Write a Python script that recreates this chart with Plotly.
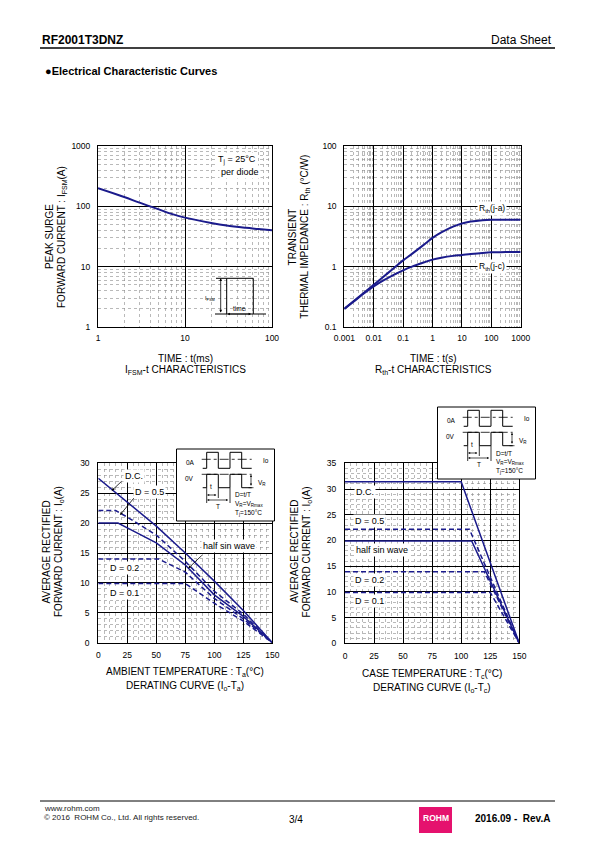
import plotly.graph_objects as go

W, H = 595, 842
def X(px): return px / W
def Y(py): return 1 - py / H

NAVY = "#1b1b8c"
FONT = "Liberation Sans, Arial, sans-serif"

# ---------------- data ----------------
# IFSM - t characteristics
ifsm_t_ms = [1, 2, 3, 5, 7, 10, 20, 30, 50, 70, 100]
ifsm_a = [200, 143, 115, 89, 75, 65, 53, 48, 44, 42, 40]

# Rth - t characteristics
rth_t_s = [0.001, 0.002, 0.005, 0.01, 0.02, 0.05, 0.1, 0.2, 0.5, 1, 2, 5, 10, 20, 50, 100, 200, 500, 1000]
rth_ja = [0.2, 0.265, 0.38, 0.5, 0.66, 0.96, 1.27, 1.63, 2.3, 3.0, 3.7, 4.6, 5.2, 5.6, 5.9, 6.0, 6.0, 6.0, 6.0]
rth_jc = [0.2, 0.26, 0.37, 0.47, 0.58, 0.74, 0.87, 1.0, 1.17, 1.31, 1.41, 1.51, 1.56, 1.62, 1.69, 1.73, 1.74, 1.75, 1.75]

# Io - Ta derating
ta_dc = [0, 25, 50, 75, 100, 125, 150]
io_ta_dc = [27.5, 23.5, 19.5, 15.0, 10.3, 5.4, 0]
ta_d05 = [0, 15, 25, 50, 75, 100, 125, 150]
io_ta_d05 = [22.1, 22.1, 21.0, 18.0, 13.6, 8.6, 4.8, 0]
ta_sin = [0, 17, 25, 50, 75, 100, 125, 150]
io_ta_sin = [20.0, 20.0, 19.2, 16.7, 13.0, 8.0, 4.4, 0]
ta_d02 = [0, 52, 75, 100, 125, 150]
io_ta_d02 = [14.0, 14.0, 11.8, 7.4, 4.0, 0]
ta_d01 = [0, 75, 100, 125, 150]
io_ta_d01 = [9.9, 9.9, 6.6, 3.6, 0]

# Io - Tc derating
tc_dc = [0, 100, 150];  io_tc_dc = [31.4, 31.4, 0]
tc_d05 = [0, 107, 150]; io_tc_d05 = [22.2, 22.2, 0]
tc_sin = [0, 109, 150]; io_tc_sin = [19.9, 19.9, 0]
tc_d02 = [0, 120, 150]; io_tc_d02 = [13.9, 13.9, 0]
tc_d01 = [0, 125, 150]; io_tc_d01 = [9.9, 9.9, 0]

# tick labels
t1_x_ticks = [1, 10, 100];        t1_x_text = ["1", "10", "100"]
t1_y_ticks = [1, 10, 100, 1000];  t1_y_text = ["1", "10", "100", "1000"]
t2_x_ticks = [0.001, 0.01, 0.1, 1, 10, 100, 1000]
t2_x_text = ["0.001", "0.01", "0.1", "1", "10", "100", "1000"]
t2_y_ticks = [0.1, 1, 10, 100];   t2_y_text = ["0.1", "1", "10", "100"]

fig = go.Figure()

def line_tr(x, y, xa, ya, dash="solid", width=1.5, shape="linear"):
    fig.add_trace(go.Scatter(x=x, y=y, mode="lines", xaxis=xa, yaxis=ya,
                             line=dict(color=NAVY, width=width, dash=dash, shape=shape),
                             showlegend=False, hoverinfo="skip"))

line_tr(ifsm_t_ms, ifsm_a, "x", "y", width=2, shape="spline")
line_tr(rth_t_s, rth_ja, "x2", "y2", width=2, shape="spline")
line_tr(rth_t_s, rth_jc, "x2", "y2", width=2, shape="spline")
DASH = "5px,3px"
line_tr(ta_dc, io_ta_dc, "x3", "y3")
line_tr(ta_d05, io_ta_d05, "x3", "y3", dash=DASH)
line_tr(ta_sin, io_ta_sin, "x3", "y3")
line_tr(ta_d02, io_ta_d02, "x3", "y3", dash=DASH)
line_tr(ta_d01, io_ta_d01, "x3", "y3", dash=DASH)
line_tr(tc_dc, io_tc_dc, "x4", "y4")
line_tr(tc_d05, io_tc_d05, "x4", "y4", dash=DASH)
line_tr(tc_sin, io_tc_sin, "x4", "y4")
line_tr(tc_d02, io_tc_d02, "x4", "y4", dash=DASH)
line_tr(tc_d01, io_tc_d01, "x4", "y4", dash=DASH)

def ax(domain, **kw):
    d = dict(domain=domain, showline=True, mirror=True, linecolor="black", linewidth=1,
             showgrid=True, gridcolor="black", gridwidth=1, zeroline=False, ticks="",
             tickfont=dict(family=FONT, size=8.5, color="black"),
             layer="above traces", automargin=False)
    d.update(kw)
    return d

MINOR = dict(showgrid=True, gridcolor="#8a8a8a", gridwidth=0.6, griddash="dot", ticks="")

def minor_cfg(dt):
    m = dict(MINOR); m.update(dtick=dt); return m

fig.update_layout(
    width=W, height=H, autosize=False,
    margin=dict(l=0, r=0, t=0, b=0, pad=0, autoexpand=False),
    paper_bgcolor="white", plot_bgcolor="white", showlegend=False,
    xaxis=ax([X(98), X(272)], type="log", range=[0, 2], anchor="y",
             tickmode="array", tickvals=t1_x_ticks, ticktext=t1_x_text,
             minor=minor_cfg("D1"), ticklabelstandoff=3),
    yaxis=ax([Y(327), Y(146)], type="log", range=[0, 3], anchor="x",
             tickmode="array", tickvals=t1_y_ticks, ticktext=t1_y_text,
             minor=minor_cfg("D1"), ticklabelstandoff=5),
    xaxis2=ax([X(344.3), X(520.7)], type="log", range=[-3, 3], anchor="y2",
              tickmode="array", tickvals=t2_x_ticks, ticktext=t2_x_text,
              minor=minor_cfg("D1"), ticklabelstandoff=3),
    yaxis2=ax([Y(327), Y(146)], type="log", range=[-1, 2], anchor="x2",
              tickmode="array", tickvals=t2_y_ticks, ticktext=t2_y_text,
              minor=minor_cfg("D1"), ticklabelstandoff=5),
    xaxis3=ax([X(98.3), X(272.3)], range=[0, 150], anchor="y3", dtick=25,
              minor=minor_cfg(5), ticklabelstandoff=4),
    yaxis3=ax([Y(642.7), Y(463.3)], range=[0, 30], anchor="x3", dtick=5,
              minor=minor_cfg(1), ticklabelstandoff=6),
    xaxis4=ax([X(345), X(519.3)], range=[0, 150], anchor="y4", dtick=25,
              minor=minor_cfg(5), ticklabelstandoff=4),
    yaxis4=ax([Y(643.3), Y(463.3)], range=[0, 35], anchor="x4", dtick=5,
              minor=minor_cfg(1), ticklabelstandoff=6),
)

shapes = []
annos = []

def text(px, py, s, size=10, bold=False, xanchor="center", angle=0, bg=None, color="black"):
    if bold:
        s = "<b>" + s + "</b>"
    a = dict(x=X(px), y=Y(py), xref="paper", yref="paper", text=s, showarrow=False,
             xanchor=xanchor, yanchor="middle", textangle=angle,
             font=dict(family=FONT, size=size, color=color))
    if bg:
        a.update(bgcolor=bg, borderpad=1)
    annos.append(a)

def seg(x0, y0, x1, y1, width=1, dash="solid", color="black"):
    shapes.append(dict(type="line", xref="paper", yref="paper",
                       x0=X(x0), y0=Y(y0), x1=X(x1), y1=Y(y1),
                       line=dict(color=color, width=width, dash=dash)))

def poly(pts, width=1):
    d = "M" + " L".join(f"{X(a):.5f},{Y(b):.5f}" for a, b in pts)
    shapes.append(dict(type="path", xref="paper", yref="paper", path=d,
                       line=dict(color="black", width=width)))

def arrow(hx, hy, tx, ty, both=False, size=0.7, width=0.8):
    annos.append(dict(x=X(hx), y=Y(hy), xref="paper", yref="paper", text="",
                      showarrow=True, ax=tx - hx, ay=ty - hy, arrowhead=2,
                      arrowsize=size, arrowwidth=width, arrowcolor="black",
                      arrowside="end+start" if both else "end",
                      standoff=0, startstandoff=0))

# ---------- header / footer ----------
text(40, 40, "RF2001T3DNZ", size=12, bold=True, xanchor="left")
text(554, 40, "Data Sheet", size=12, xanchor="right")
seg(40, 48, 555, 48, width=1.3)
text(43, 71, "●Electrical Characteristic Curves", size=11, bold=True, xanchor="left")

seg(40, 801, 555, 801, width=1)
text(42, 808, "www.rohm.com", size=8, xanchor="left", color="#222")
text(42, 817, "© 2016  ROHM Co., Ltd. All rights reserved.", size=8, xanchor="left", color="#222")
text(296, 819, "3/4", size=10)
shapes.append(dict(type="rect", xref="paper", yref="paper", x0=X(419), x1=X(452),
                   y0=Y(833), y1=Y(807), fillcolor="#e5126e", line=dict(width=0)))
text(435.5, 818, "ROHM", size=8.5, bold=True, color="white")
text(552, 818, "2016.09 -  Rev.A", size=10, bold=True, xanchor="right")

# ---------- chart 1 texts ----------
text(49.3, 236.7, "PEAK SURGE", angle=-90)
text(61.3, 236.7, "FORWARD CURRENT : I<sub>FSM</sub>(A)", angle=-90)
text(185, 358, "TIME : t(ms)")
text(185, 370, "I<sub>FSM</sub>-t CHARACTERISTICS")
text(237, 160, "T<sub>j</sub> = 25°C", size=9, bg="white")
text(240, 172, "per diode", size=9, bg="white")
# pulse sketch
seg(215, 314, 266, 314)
poly([(226.7, 314), (226.7, 278.3), (253.3, 278.3), (253.3, 314)])
seg(216, 278.3, 226.7, 278.3)
arrow(220.7, 278.3, 220.7, 314, both=True)
arrow(227.5, 314, 252.5, 314, both=True, width=0.7)
text(210, 298.3, "I<sub>FSM</sub>", size=5.5)
text(239.5, 308.5, "time", size=6.5)

# ---------- chart 2 texts ----------
text(292.7, 236.7, "TRANSIENT", angle=-90)
text(305, 236.7, "THERMAL IMPEDANCE : R<sub>th</sub> (°C/W)", angle=-90)
text(433.3, 358, "TIME : t(s)")
text(433.3, 370, "R<sub>th</sub>-t CHARACTERISTICS")
text(491.7, 208.3, "R<sub>th</sub>(j-a)", size=8.5, bg="white")
text(491.7, 266.5, "R<sub>th</sub>(j-c)", size=8.5, bg="white")

# ---------- chart 3 texts ----------
text(46.7, 551.7, "AVERAGE RECTIFIED", angle=-90)
text(58.3, 551.7, "FORWARD CURRENT : I<sub>o</sub>(A)", angle=-90)
text(185.3, 672, "AMBIENT TEMPERATURE : T<sub>a</sub>(°C)")
text(185.3, 686, "DERATING CURVE (I<sub>o</sub>-T<sub>a</sub>)")
text(123.3, 476, "D.C.", size=9, xanchor="left", bg="white")
text(132.7, 491.7, "D = 0.5", size=9, xanchor="left", bg="white")
text(201, 546, "half sin wave", size=9, xanchor="left", bg="white")
text(108.3, 568.3, "D = 0.2", size=9, xanchor="left", bg="white")
text(108.3, 592.7, "D = 0.1", size=9, xanchor="left", bg="white")
arrow(111.7, 490.7, 123, 480)
arrow(120, 515, 135, 496.7)
arrow(188.3, 568.3, 203.3, 554)

# ---------- chart 4 texts ----------
text(295, 551.7, "AVERAGE RECTIFIED", angle=-90)
text(306.7, 551.7, "FORWARD CURRENT : I<sub>o</sub>(A)", angle=-90)
text(432, 674, "CASE TEMPERATURE : T<sub>c</sub>(°C)")
text(432, 688, "DERATING CURVE (I<sub>o</sub>-T<sub>c</sub>)")
text(354.3, 491.7, "D.C.", size=9, xanchor="left", bg="white")
text(353.3, 520.7, "D = 0.5", size=9, xanchor="left", bg="white")
text(354.3, 550, "half sin wave", size=9, xanchor="left", bg="white")
text(353.3, 580, "D = 0.2", size=9, xanchor="left", bg="white")
text(353.3, 600.7, "D = 0.1", size=9, xanchor="left", bg="white")

# ---------- waveform insets ----------
def inset(ox, oy):
    shapes.append(dict(type="rect", xref="paper", yref="paper",
                       x0=X(ox), x1=X(ox + 98), y0=Y(oy + 72), y1=Y(oy),
                       fillcolor="white", line=dict(color="black", width=1)))
    P = lambda a, b: (ox + a, oy + b)
    text(*P(7.5, 13.7), "0A", size=6.5, xanchor="left")
    text(*P(6.8, 29.3), "0V", size=6.5, xanchor="left")
    seg(*P(25.2, 10.3), *P(75.2, 10.3), width=0.8, dash="dashdot")
    seg(*P(25.2, 25.3), *P(75.2, 25.3), width=0.8, dash="dashdot")
    text(*P(84, 11.5), "Io", size=6.5, xanchor="left")
    poly([P(26.2, 19.3), P(30.2, 19.3), P(30.2, 3.3), P(41.8, 3.3), P(41.8, 19.3),
          P(53.5, 19.3), P(53.5, 3.3), P(65.2, 3.3), P(65.2, 19.3), P(75.2, 19.3)])
    poly([P(26.2, 38.7), P(30.2, 38.7), P(30.2, 25.3), P(41.8, 25.3), P(41.8, 38.7),
          P(53.5, 38.7), P(53.5, 25.3), P(65.2, 25.3), P(65.2, 38.7), P(75.2, 38.7)])
    seg(*P(30.2, 38.7), *P(30.2, 54), width=0.8)
    seg(*P(41.8, 38.7), *P(41.8, 49), width=0.8)
    seg(*P(53.5, 38.7), *P(53.5, 54), width=0.8)
    a1 = P(30.6, 46); a2 = P(41.4, 46)
    arrow(a1[0], a1[1], a2[0], a2[1], both=True, size=0.6, width=0.7)
    b1 = P(30.6, 51); b2 = P(53.1, 51)
    arrow(b1[0], b1[1], b2[0], b2[1], both=True, size=0.6, width=0.7)
    text(*P(34.8, 37.7), "t", size=6.5)
    text(*P(41.8, 57.7), "T", size=6.5)
    v1 = P(74.5, 25.8); v2 = P(74.5, 38.2)
    arrow(v1[0], v1[1], v2[0], v2[1], both=True, size=0.6, width=0.7)
    seg(*P(72, 38.7), *P(77, 38.7), width=0.7)
    text(*P(79, 34), "V<sub>R</sub>", size=6.5, xanchor="left")
    text(*P(56.8, 46), "D=t/T", size=6.5, xanchor="left")
    text(*P(56.8, 55.3), "V<sub>R</sub>=V<sub>Rmax</sub>", size=6.5, xanchor="left")
    text(*P(56.8, 64.3), "T<sub>j</sub>=150°C", size=6.5, xanchor="left")

inset(176.5, 449)
inset(437.5, 407)

fig.update_layout(shapes=shapes, annotations=annos)
fig.write_html("out.html", config={"displayModeBar": False, "staticPlot": True},
               post_script="document.body.style.margin='0';document.body.style.overflow='hidden';")
